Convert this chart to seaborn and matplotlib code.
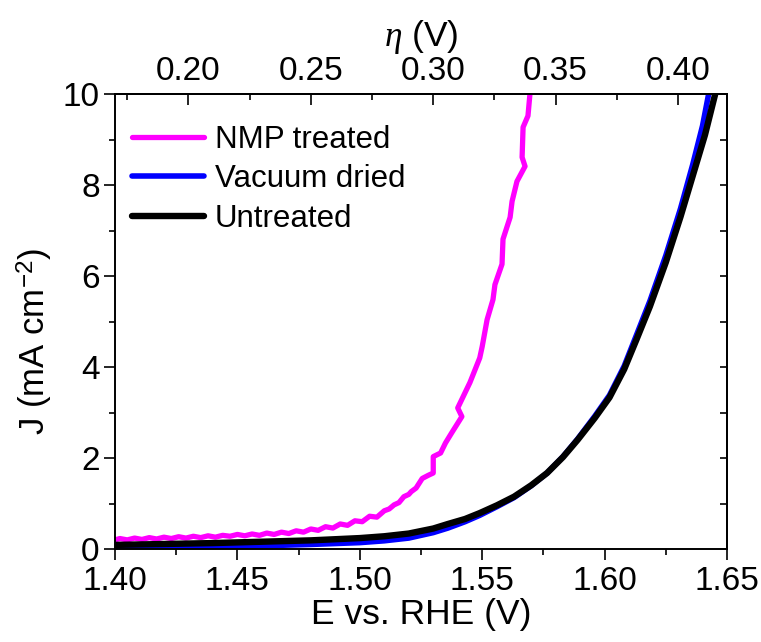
import numpy as np
import pandas as pd
import matplotlib
matplotlib.use('Agg')
import matplotlib.pyplot as plt
import seaborn as sns
from matplotlib.ticker import MultipleLocator, FormatStrFormatter

# NMP treated (magenta), incl. small ripple at low E
nmp_E = [1.400, 1.402, 1.405, 1.408, 1.411, 1.414, 1.417, 1.420, 1.423, 1.426,
         1.429, 1.432, 1.435, 1.438, 1.441, 1.444, 1.447, 1.450, 1.453, 1.456,
         1.459, 1.462, 1.465, 1.468, 1.471, 1.474, 1.477, 1.480, 1.483, 1.486,
         1.489, 1.492, 1.495, 1.498, 1.501, 1.504, 1.507, 1.510, 1.512, 1.514,
         1.516, 1.518, 1.520, 1.521, 1.523, 1.5255, 1.528, 1.530, 1.530, 1.533,
         1.535, 1.5375, 1.5417, 1.540, 1.545, 1.549, 1.550, 1.552, 1.5544, 1.5552,
         1.5581, 1.5585, 1.5614, 1.5622, 1.5642, 1.5675, 1.5663, 1.5667, 1.5687,
         1.5695, 1.5700]
nmp_J = [0.20, 0.23, 0.20, 0.24, 0.21, 0.25, 0.22, 0.26, 0.23, 0.27,
         0.24, 0.28, 0.25, 0.29, 0.26, 0.30, 0.28, 0.32, 0.29, 0.33,
         0.30, 0.35, 0.32, 0.37, 0.34, 0.40, 0.37, 0.44, 0.41, 0.49,
         0.46, 0.55, 0.52, 0.62, 0.60, 0.72, 0.70, 0.84, 0.88, 0.97,
         1.02, 1.15, 1.20, 1.26, 1.34, 1.55, 1.62, 1.67, 2.03, 2.11,
         2.33, 2.55, 2.91, 3.10, 3.66, 4.20, 4.45, 5.04, 5.48, 5.81,
         6.26, 6.81, 7.29, 7.64, 8.08, 8.41, 8.61, 9.27, 9.52,
         10.0, 10.3]

# Vacuum dried (blue)
vac_E = [1.400, 1.420, 1.440, 1.460, 1.480, 1.500, 1.510, 1.520, 1.530, 1.536,
         1.543, 1.549, 1.556, 1.563, 1.570, 1.5765, 1.583, 1.589, 1.596, 1.602,
         1.608, 1.613, 1.6185, 1.625, 1.631, 1.636, 1.640, 1.6425, 1.644]
vac_J = [0.02, 0.03, 0.05, 0.07, 0.10, 0.14, 0.18, 0.24, 0.36, 0.46,
         0.60, 0.74, 0.93, 1.13, 1.39, 1.67, 2.03, 2.42, 2.92, 3.38,
         4.02, 4.70, 5.45, 6.45, 7.48, 8.45, 9.30, 10.0, 10.3]

# Untreated (black)
unt_E = [1.400, 1.420, 1.440, 1.460, 1.480, 1.500, 1.510, 1.520, 1.530, 1.536,
         1.543, 1.549, 1.556, 1.563, 1.570, 1.5765, 1.583, 1.589, 1.596, 1.602,
         1.608, 1.613, 1.6185, 1.625, 1.631, 1.636, 1.641, 1.645, 1.6465]
unt_J = [0.09, 0.11, 0.13, 0.16, 0.19, 0.24, 0.28, 0.34, 0.45, 0.55,
         0.66, 0.79, 0.96, 1.15, 1.40, 1.67, 2.02, 2.40, 2.88, 3.33,
         3.95, 4.60, 5.33, 6.30, 7.30, 8.20, 9.10, 9.96, 10.3]

labels = ['NMP treated', 'Vacuum dried', 'Untreated']
colors = ['#ff00ff', '#0000ff', '#000000']
eta_ticks = [0.20, 0.25, 0.30, 0.35, 0.40]
eta_minor = [0.175, 0.225, 0.275, 0.325, 0.375, 0.425]
E_REF = 1.23  # eta = E - 1.23

sns.set_style('ticks')
plt.rcParams['font.family'] = ['Liberation Sans', 'DejaVu Sans']
plt.rcParams['mathtext.fontset'] = 'custom'
plt.rcParams['mathtext.rm'] = 'Liberation Sans'
plt.rcParams['mathtext.it'] = 'Liberation Serif:italic'
plt.rcParams['axes.linewidth'] = 1.4
for k in ['text.color', 'axes.labelcolor', 'xtick.color', 'ytick.color', 'axes.edgecolor']:
    plt.rcParams[k] = 'black'

fig = plt.figure(figsize=(7.61, 6.42), dpi=100)
ax = fig.add_axes([115 / 761, 1 - 549 / 642, 612 / 761, 455 / 642])

series = [(nmp_E, nmp_J, 3.8), (vac_E, vac_J, 4.0), (unt_E, unt_J, 4.6)]
for (e, j, lw), lab, col in zip(series, labels, colors):
    df = pd.DataFrame({'E': e, 'J': j})
    sns.lineplot(data=df, x='E', y='J', sort=False, estimator=None,
                 color=col, lw=lw, label=lab, ax=ax, legend=False)

ax.set_xlim(1.40, 1.65)
ax.set_ylim(0, 10)
ax.xaxis.set_major_locator(MultipleLocator(0.05))
ax.xaxis.set_minor_locator(MultipleLocator(0.025))
ax.xaxis.set_major_formatter(FormatStrFormatter('%.2f'))
ax.yaxis.set_major_locator(MultipleLocator(2))
ax.yaxis.set_minor_locator(MultipleLocator(1))
ax.tick_params(which='major', direction='out', length=8, width=1.2,
               labelsize=24, pad=3)
ax.tick_params(axis='x', which='major', pad=4)
ax.tick_params(which='minor', direction='out', length=4.5, width=1.2)
for s in ax.spines.values():
    s.set_visible(True)

ax.set_xlabel('E vs. RHE (V)', fontsize=25.5, labelpad=1)
ax.set_ylabel('J (mA cm$^{-2}$)', fontsize=25)
ax.yaxis.set_label_coords(-0.098, 0.457)

# top axis: overpotential
top = ax.secondary_xaxis('top', functions=(lambda e: e - E_REF, lambda n: n + E_REF))
top.set_xticks(eta_ticks)
top.set_xticks(eta_minor, minor=True)
top.xaxis.set_major_formatter(FormatStrFormatter('%.2f'))
top.tick_params(which='major', direction='in', length=8, width=1.2, labelsize=24, pad=5)
top.tick_params(which='minor', direction='in', length=4.5, width=1.2)
top.set_xlabel(r'$\eta$ (V)', fontsize=25.5, labelpad=7)

# right axis: inward ticks only
right = ax.secondary_yaxis('right')
right.yaxis.set_major_locator(MultipleLocator(2))
right.yaxis.set_minor_locator(MultipleLocator(1))
right.tick_params(which='both', direction='in', length=5, width=1.2, labelright=False)

handles = ax.get_lines()[:3]
ax.legend(handles=handles, labels=labels, loc='upper left', bbox_to_anchor=(0.028, 0.932),
          frameon=False, borderaxespad=0, borderpad=0, handlelength=2.3,
          handletextpad=0.35, labelspacing=0.3, fontsize=22.5)

fig.savefig('out.png', dpi=100)
